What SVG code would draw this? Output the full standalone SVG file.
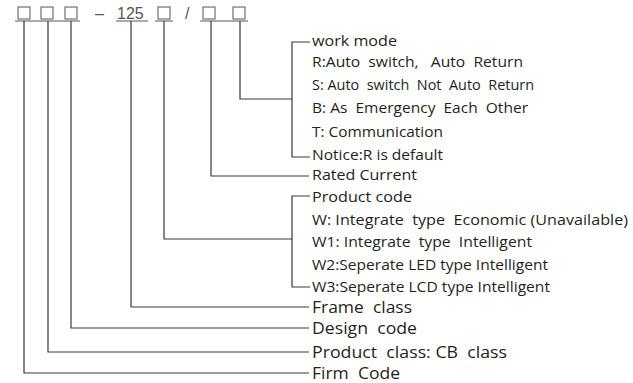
<svg xmlns="http://www.w3.org/2000/svg" width="633" height="383" viewBox="0 0 633 383" xml:space="preserve">
<style>
.ln{stroke:#3a3839;stroke-width:1.2;fill:none}
.bx{stroke:#555;stroke-width:1;fill:none}
.top{font-family:"Liberation Sans",Arial,sans-serif;font-size:16px;fill:#555}
.t{font-family:"Open Sans","Noto Sans",sans-serif;fill:#231f20;white-space:pre}
.s{font-size:14px}
.m{font-size:15px}
.l{font-size:15.5px}
</style>
<rect width="633" height="383" fill="#fff"/>
<g id="code">
<rect class="bx" x="18" y="7" width="12" height="12"/>
<rect class="bx" x="41" y="7" width="12" height="12"/>
<rect class="bx" x="65" y="7" width="12" height="12"/>
<line class="bx" x1="15" y1="21" x2="80" y2="21"/>
<text class="top" x="95" y="19">–</text>
<text class="top" x="117" y="19">125</text>
<line class="bx" x1="116" y1="21" x2="148" y2="21"/>
<rect class="bx" x="158" y="7" width="12" height="12"/>
<line class="bx" x1="155" y1="21" x2="173" y2="21"/>
<text class="top" x="185" y="19">/</text>
<rect class="bx" x="203" y="7" width="12" height="12"/>
<rect class="bx" x="233" y="7" width="12" height="12"/>
<line class="bx" x1="200" y1="21" x2="248" y2="21"/>
</g>
<g id="connectors">
<path class="ln" d="M240 21V99H292"/>
<path class="ln" d="M310 42H292V157H310"/>
<path class="ln" d="M211 21V176H309"/>
<path class="ln" d="M164 21V239H292"/>
<path class="ln" d="M310 196H292V287H310"/>
<path class="ln" d="M131 21V307H309"/>
<path class="ln" d="M71 21V328H309"/>
<path class="ln" d="M48 21V352H309"/>
<path class="ln" d="M24 21V373H309"/>
</g>
<g id="work-mode">
<text class="t m" x="312" y="46" textLength="85" lengthAdjust="spacingAndGlyphs">work mode</text>
<text class="t s" x="312" y="67" textLength="211" lengthAdjust="spacingAndGlyphs">R:Auto  switch,   Auto  Return</text>
<text class="t s" x="312" y="90" textLength="222" lengthAdjust="spacingAndGlyphs">S: Auto  switch  Not  Auto  Return</text>
<text class="t s" x="312" y="113" textLength="216" lengthAdjust="spacingAndGlyphs">B: As  Emergency  Each  Other</text>
<text class="t s" x="312" y="137" textLength="131" lengthAdjust="spacingAndGlyphs">T: Communication</text>
<text class="t s" x="312" y="160" textLength="131" lengthAdjust="spacingAndGlyphs">Notice:R is default</text>
</g>
<g id="rated-current">
<text class="t m" x="312" y="180" textLength="105" lengthAdjust="spacingAndGlyphs">Rated Current</text>
</g>
<g id="product-code">
<text class="t m" x="312" y="202" textLength="100" lengthAdjust="spacingAndGlyphs">Product code</text>
<text class="t s" x="312" y="225" textLength="316" lengthAdjust="spacingAndGlyphs">W: Integrate  type  Economic (Unavailable)</text>
<text class="t s" x="312" y="247" textLength="220" lengthAdjust="spacingAndGlyphs">W1: Integrate  type  Intelligent</text>
<text class="t s" x="312" y="270" textLength="236" lengthAdjust="spacingAndGlyphs">W2:Seperate LED type Intelligent</text>
<text class="t s" x="312" y="292" textLength="238" lengthAdjust="spacingAndGlyphs">W3:Seperate LCD type Intelligent</text>
</g>
<g id="frame-class"><text class="t l" x="312" y="312.5" textLength="100" lengthAdjust="spacingAndGlyphs">Frame  class</text></g>
<g id="design-code"><text class="t l" x="312" y="334" textLength="105" lengthAdjust="spacingAndGlyphs">Design  code</text></g>
<g id="product-class"><text class="t l" x="312" y="357.5" textLength="195" lengthAdjust="spacingAndGlyphs">Product  class: CB  class</text></g>
<g id="firm-code"><text class="t l" x="312" y="379" textLength="88" lengthAdjust="spacingAndGlyphs">Firm  Code</text></g>
</svg>
